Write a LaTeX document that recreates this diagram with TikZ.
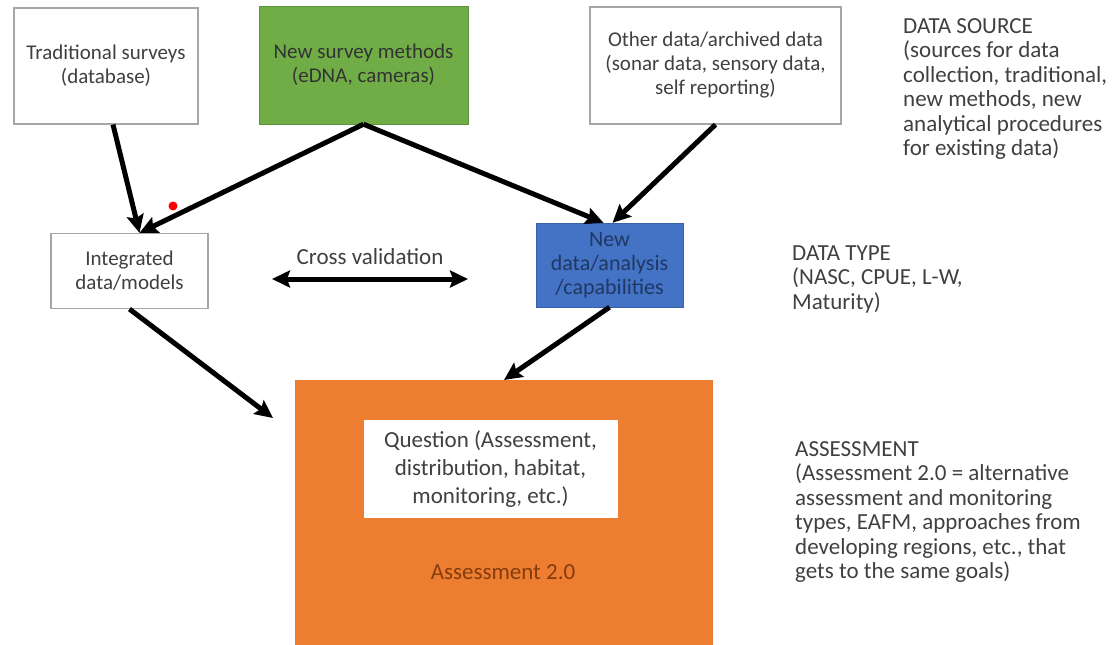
\documentclass[tikz,border=0pt]{standalone}
\usepackage{fontspec}
\setmainfont{Carlito}
\usetikzlibrary{arrows.meta}
\definecolor{boxgreen}{HTML}{70AD47}
\definecolor{boxblue}{HTML}{4472C4}
\definecolor{boxorange}{HTML}{ED7D31}
\definecolor{textgray}{HTML}{404040}
\definecolor{edgegray}{HTML}{A6A6A6}
\definecolor{navytext}{HTML}{1F3864}
\definecolor{brick}{HTML}{843C0C}

\begin{document}
\begin{tikzpicture}[x=1pt,y=-1pt,
    every node/.style={font=\fontsize{21}{24}\selectfont, text=textgray, align=center, inner sep=0pt},
    whitebox/.style={draw=edgegray, line width=1.2pt, fill=white},
    sidetext/.style={anchor=west, align=left, font=\fontsize{23}{24.5}\selectfont},
    arr/.style={line width=5pt, -{Stealth[length=18pt,width=17pt,inset=3pt]}},
    dblarr/.style={line width=5pt, {Stealth[length=18pt,width=17pt,inset=3pt]}-{Stealth[length=18pt,width=17pt,inset=3pt]}}]
    \useasboundingbox (0,0) rectangle (1112,645);
        % Data sources
        \node[whitebox, minimum width=184pt, minimum height=116pt] (trad) at (106,66) {Traditional surveys\\(database)};
        \node[fill=boxgreen, draw=boxgreen!85!black, minimum width=209pt, minimum height=118pt, text=black!80] (newsurv) at (363.5,65) {New survey methods\\(eDNA, cameras)};
        \node[whitebox, minimum width=251pt, minimum height=117pt] (other) at (715.5,65.5) {Other data/archived data\\(sonar data, sensory data,\\self reporting)};
        % Data types
        \node[whitebox, minimum width=157pt, minimum height=75pt] (integ) at (129.5,271) {Integrated\\data/models};
        \node[fill=boxblue, draw=boxblue!85!black, minimum width=147pt, minimum height=84pt, text=navytext, font=\fontsize{22}{24}\selectfont] (newdata) at (609.5,265) {New\\data/analysis\\/capabilities};
        \node[font=\fontsize{23}{24}\selectfont] (cross) at (370,257) {Cross validation};
        \coordinate (cvleft) at (272,279);
        \coordinate (cvright) at (468,279);
        \node[circle, fill=red, minimum size=9pt] (dot) at (173,206) {};
        % Assessment
        \node[fill=boxorange, minimum width=418pt, minimum height=270pt, anchor=north] (asmt) at (504,380) {};
        \node[fill=white, minimum width=254pt, minimum height=98pt, font=\fontsize{23}{28}\selectfont] (quest) at (490.5,469) {Question (Assessment,\\distribution, habitat,\\monitoring, etc.)};
        \node[text=brick, font=\fontsize{23}{24}\selectfont] (asmtlabel) at (503,572) {Assessment 2.0};
        \coordinate (intend) at (273,418);
        % Side notes
        \node[sidetext] (srcnote) at (903,89) {DATA SOURCE\\(sources for data\\collection, traditional,\\new methods, new\\analytical procedures\\for existing data)};
        \node[sidetext] (typenote) at (792,279) {DATA TYPE\\(NASC, CPUE, L-W,\\Maturity)};
        \node[sidetext] (asmtnote) at (795,512) {ASSESSMENT\\(Assessment 2.0 = alternative\\assessment and monitoring\\types, EAFM, approaches from\\developing regions, etc., that\\gets to the same goals)};
        % Arrows
        \draw[arr] ([xshift=7pt]trad.south) -- ([xshift=10pt]integ.north);
        \draw[arr] (newsurv.south) -- ([xshift=10pt]integ.north);
        \draw[arr] (newsurv.south) -- ([xshift=-6pt]newdata.north);
        \draw[arr] (other.south) -- ([xshift=3pt]newdata.north);
        \draw[dblarr] (cvleft) -- (cvright);
        \draw[arr] (integ.south) -- (intend);
        \draw[arr] (newdata.south) -- (asmt.north);
    \end{tikzpicture}
\end{document}
